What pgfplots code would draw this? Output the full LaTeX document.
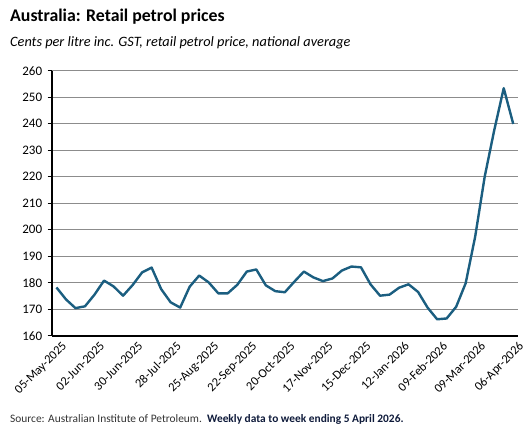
\documentclass[border=0pt]{standalone}
\usepackage{pgfplots}
\pgfplotsset{compat=1.18}
\usepackage{fontspec}
\setmainfont{Carlito}
\definecolor{petrol}{HTML}{1B5E80}
\definecolor{gridgray}{HTML}{8C8C8C}
\definecolor{srcgray}{HTML}{333333}
\definecolor{srcnavy}{HTML}{0E1A3A}
\begin{document}
\begin{tikzpicture}[x=1pt,y=1pt]
\useasboundingbox (0,0) rectangle (532,439);
\node[anchor=west,inner sep=0pt,font=\fontsize{17.8}{20}\selectfont\bfseries] at (10,422) {Australia: Retail petrol prices};
\node[anchor=west,inner sep=0pt,font=\fontsize{14.3}{16}\selectfont\itshape] at (10,396) {Cents per litre inc. GST, retail petrol price, national average};
\node[anchor=west,inner sep=0pt,font=\fontsize{11.4}{13}\selectfont] at (10,20) {\textcolor{srcgray}{Source: Australian Institute of Petroleum.}\ \ \textcolor{srcnavy}{\textbf{Weekly data to week ending 5 April 2026.}}};
\begin{axis}[
  at={(51.7pt,103.3pt)}, anchor=south west,
  scale only axis, width=466.3pt, height=265pt,
  xmin=-0.5, xmax=48.5, ymin=160, ymax=260,
  axis lines=left,
  axis line style={-, line width=1.6pt, black},
  ytick={160,170,...,260},
  ymajorgrids,
  grid style={gridgray, line width=0.8pt},
  xtick=\empty,
  minor xtick={-0.5,0.5,...,48.5},
  minor tick length=4pt,
  extra x ticks={0,4,...,48},
  extra x tick labels={05-May-2025,02-Jun-2025,30-Jun-2025,28-Jul-2025,25-Aug-2025,22-Sep-2025,20-Oct-2025,17-Nov-2025,15-Dec-2025,12-Jan-2026,09-Feb-2026,09-Mar-2026,06-Apr-2026},
  extra x tick style={major tick length=0pt, tick label style={rotate=45, anchor=north east, inner sep=1pt, yshift=-6pt, xshift=1pt}},
  tick align=outside,
  major tick length=4pt,
  tick style={black, line width=1pt},
  ticklabel style={font=\fontsize{12.5}{14}\selectfont},
  yticklabel style={font=\fontsize{13}{15}\selectfont, xshift=-2pt},
  /pgf/number format/assume math mode=true,
  clip=false,
]
\addplot[petrol, line width=2.4pt, line join=round, mark=none] coordinates {
(0,178.2) (1,173.7) (2,170.4) (3,171.1) (4,175.5) (5,180.8) (6,178.6) (7,175.1)
(8,179.1) (9,183.9) (10,185.7) (11,177.6) (12,172.6) (13,170.6) (14,178.5) (15,182.7)
(16,180.1) (17,176.0) (18,176.0) (19,179.2) (20,184.2) (21,185.0) (22,179.0) (23,176.8)
(24,176.4) (25,180.4) (26,184.2) (27,182.0) (28,180.6) (29,181.6) (30,184.6) (31,186.1)
(32,185.8) (33,179.4) (34,175.1) (35,175.5) (36,178.1) (37,179.4) (38,176.5) (39,170.6)
(40,166.2) (41,166.5) (42,170.9) (43,179.8) (44,197.4) (45,220.0) (46,237.5) (47,253.4)
(48,239.9)
};
\end{axis}
\end{tikzpicture}
\end{document}
